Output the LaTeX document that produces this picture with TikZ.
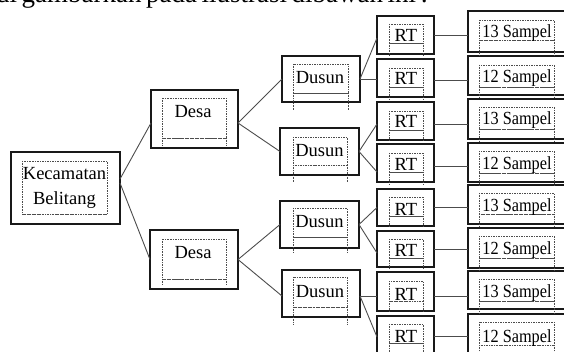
\documentclass[tikz,border=0pt]{standalone}
\usepackage{fontspec}
\setmainfont{Liberation Serif}
\newcommand\ibox[5]{%
  \draw[dotbox] (#1,#2) rectangle (#3,#4);
  \draw[dotbox,line width=0.9pt] (#1,#4) -- (#3,#4);
  \draw[dotbox] (#1,#4) -- (#1,#5) (#3,#4) -- (#3,#5);}
\newcommand\smp[1]{\scalebox{0.88}[1]{#1}}
\tikzset{
  box/.style={draw=black!90, line width=1.3pt, inner sep=0pt, outer sep=0pt, fill=white},
  lbl/.style={font=\fontsize{18.5}{22}\selectfont, inner sep=0pt, anchor=base, text=black},
  conn/.style={draw=black!70, line width=0.9pt},
  dotbox/.style={draw=black!70, line width=0.55pt, dash pattern=on 0.55pt off 1.1pt}
}
\begin{document}
\begin{tikzpicture}[x=1pt,y=-1pt]
\useasboundingbox (0,0) rectangle (564,352);
\clip (0,0) rectangle (564,352);
% intro line (cut off at the top, justified)
\node[anchor=base west, inner sep=0pt, font=\fontsize{27}{30}\selectfont] (intro) at (-4,3) {\makebox[396pt][s]{di gambarkan pada ilustrasi dibawah ini :}};
% boxes
\node[box, minimum width=109pt, minimum height=72pt] (kec) at (65.5,188) {};
\node[box, minimum width=87pt, minimum height=58pt] (desa1) at (194.5,119) {};
\node[box, minimum width=88pt, minimum height=59pt] (desa2) at (194,259.5) {};
\node[box, minimum width=78pt, minimum height=46pt] (dusun1) at (321,79) {};
\node[box, minimum width=79pt, minimum height=47pt] (dusun2) at (319.5,151.5) {};
\node[box, minimum width=79pt, minimum height=47pt] (dusun3) at (319.5,224.5) {};
\node[box, minimum width=78pt, minimum height=47pt] (dusun4) at (321,293.5) {};
\node[box, minimum width=57pt, minimum height=38pt] (rt1) at (405.5,35) {};
\node[box, minimum width=57pt, minimum height=38pt] (rt2) at (405.5,78) {};
\node[box, minimum width=57pt, minimum height=38pt] (rt3) at (405.5,121) {};
\node[box, minimum width=57pt, minimum height=38pt] (rt4) at (405.5,163) {};
\node[box, minimum width=57pt, minimum height=37pt] (rt5) at (405.5,207.5) {};
\node[box, minimum width=57pt, minimum height=36pt] (rt6) at (405.5,249) {};
\node[box, minimum width=57pt, minimum height=39pt] (rt7) at (405.5,291.5) {};
\node[box, minimum width=57pt, minimum height=38pt] (rt8) at (405.5,335) {};
\node[box, minimum width=104pt, minimum height=41pt] (s1) at (520,31.5) {};
\node[box, minimum width=104pt, minimum height=39pt] (s2) at (520,75.5) {};
\node[box, minimum width=104pt, minimum height=40pt] (s3) at (520,119) {};
\node[box, minimum width=104pt, minimum height=39pt] (s4) at (520,162.5) {};
\node[box, minimum width=104pt, minimum height=39pt] (s5) at (520,204.5) {};
\node[box, minimum width=104pt, minimum height=40pt] (s6) at (520,248) {};
\node[box, minimum width=104pt, minimum height=38pt] (s7) at (520,290) {};
\node[box, minimum width=104pt, minimum height=40pt] (s8) at (520,334) {};
% connectors
\draw[conn] ([yshift=9pt]kec.east) -- ([yshift=-4pt]desa1.west);
\draw[conn] ([yshift=5pt]kec.east) -- (desa2.west);
\draw[conn] ([yshift=-4pt]desa1.east) -- (dusun1.west);
\draw[conn] ([yshift=-4pt]desa1.east) -- (dusun2.west);
\draw[conn] (desa2.east) -- (dusun3.west);
\draw[conn] (desa2.east) -- ([yshift=-2.5pt]dusun4.west);
\draw[conn] (dusun1.east) -- ([yshift=-3pt]rt1.west);
\draw[conn] (dusun1.east) -- (rt2.west |- dusun1.east);
\draw[conn] (dusun2.east) -- ([yshift=-3pt]rt3.west);
\draw[conn] (dusun2.east) -- ([yshift=-9pt]rt4.west);
\draw[conn] (dusun3.east) -- (rt5.west);
\draw[conn] (dusun3.east) -- ([yshift=-4pt]rt6.west);
\draw[conn] ([yshift=-2.5pt]dusun4.east) -- ([yshift=-2.5pt]rt7.west |- dusun4.east);
\draw[conn] ([yshift=-2.5pt]dusun4.east) -- ([yshift=-2pt]rt8.west);
\draw[conn] (rt1.east) -- (s1.west |- rt1.east);
\draw[conn] ([yshift=-2pt]rt2.east) -- ([yshift=-2pt]s2.west |- rt2.east);
\draw[conn] ([yshift=-3pt]rt3.east) -- ([yshift=-3pt]s3.west |- rt3.east);
\draw[conn] ([yshift=-3pt]rt4.east) -- ([yshift=-3pt]s4.west |- rt4.east);
\draw[conn] (rt5.east) -- (s5.west |- rt5.east);
\draw[conn] (rt6.east) -- (s6.west |- rt6.east);
\draw[conn] ([yshift=-4.5pt]rt7.east) -- ([yshift=-4.5pt]s7.west |- rt7.east);
\draw[conn] ([yshift=-1pt]rt8.east) -- ([yshift=-1pt]s8.west |- rt8.east);
% dotted inner frames
\ibox{22}{161}{107}{214}{214}
\ibox{162}{98}{226}{138}{145}
\ibox{162}{239}{226}{279}{285}
\ibox{293}{64}{348}{93}{110}
\ibox{293}{137}{347}{165}{182}
\ibox{293}{208}{347}{237}{253}
\ibox{293}{277}{347}{307}{325}
\ibox{389}{24}{423}{43}{55}
\ibox{389}{68}{423}{87}{100}
\ibox{389}{111}{423}{130}{141}
\ibox{389}{153}{423}{172}{184}
\ibox{389}{197}{423}{216}{226}
\ibox{389}{239}{423}{258}{268}
\ibox{389}{281}{423}{301}{312}
\ibox{389}{324}{423}{343}{354}
\ibox{479}{20}{554}{40}{55}
\ibox{479}{65}{554}{87}{98}
\ibox{479}{107}{554}{129}{141}
\ibox{479}{151}{554}{173}{185}
\ibox{479}{193}{554}{214}{226}
\ibox{479}{236}{554}{258}{270}
\ibox{479}{279}{554}{301}{313}
\ibox{479}{322}{554}{345}{356}
% labels
\node[lbl] (tkec1) at (64.5,180) {Kecamatan};
\node[lbl] (tkec2) at (64.5,205) {Belitang};
\node[lbl] (tdesa1) at (193,118) {Desa};
\node[lbl] (tdesa2) at (193,259) {Desa};
\node[lbl] (tdusun1) at (320,84) {Dusun};
\node[lbl] (tdusun2) at (319.5,157) {Dusun};
\node[lbl] (tdusun3) at (319.5,228) {Dusun};
\node[lbl] (tdusun4) at (320,298) {Dusun};
\node[lbl] (trt1) at (406,42) {RT};
\node[lbl] (trt2) at (406,85) {RT};
\node[lbl] (trt3) at (406,128) {RT};
\node[lbl] (trt4) at (406,171) {RT};
\node[lbl] (trt5) at (406,216) {RT};
\node[lbl] (trt6) at (406,257) {RT};
\node[lbl] (trt7) at (406,300) {RT};
\node[lbl] (trt8) at (406,342) {RT};
\node[lbl] (ts1) at (517,38) {\smp{13 Sampel}};
\node[lbl] (ts2) at (517,83) {\smp{12 Sampel}};
\node[lbl] (ts3) at (517,125) {\smp{13 Sampel}};
\node[lbl] (ts4) at (517,170) {\smp{12 Sampel}};
\node[lbl] (ts5) at (517,212) {\smp{13 Sampel}};
\node[lbl] (ts6) at (517,255) {\smp{12 Sampel}};
\node[lbl] (ts7) at (517,297) {\smp{13 Sampel}};
\node[lbl] (ts8) at (517,342) {\smp{12 Sampel}};
\end{tikzpicture}
\end{document}
